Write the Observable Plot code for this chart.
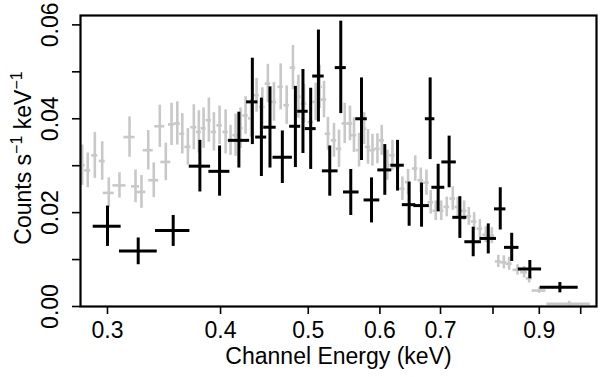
<!DOCTYPE html>
<html><head><meta charset="utf-8">
<script src="https://cdn.jsdelivr.net/npm/d3@7"></script>
<script src="https://cdn.jsdelivr.net/npm/@observablehq/plot@0.6"></script>
<style>body{margin:0;background:#fff;} svg{display:block;}</style>
</head><body><div id="chart"></div>
<script>
// ---- Black spectrum (energy bin, counts, errors) ----
const blackE   = [0.300,0.3244,0.3546,0.3795,0.3990,0.4191,0.4337,0.4438,0.4536,0.4681,0.4839,0.4933,0.5031,0.5131,0.5281,0.5431,0.5571,0.5725,0.5873,0.6075,0.6275,0.6463,0.6670,0.6818,0.6958,0.7155,0.7353,0.7607,0.7904,0.8149,0.8390,0.8786,0.9484];
const blackElo = [0.2893,0.3093,0.3390,0.3694,0.3883,0.4082,0.4274,0.4374,0.4464,0.4571,0.4769,0.4867,0.4961,0.5057,0.5183,0.5355,0.5469,0.5642,0.5763,0.5968,0.6169,0.6352,0.6541,0.6735,0.6848,0.7024,0.7222,0.7447,0.7738,0.8030,0.8237,0.8532,0.9019];
const blackEhi = [0.3106,0.3405,0.3700,0.3900,0.4096,0.4307,0.4399,0.4498,0.4608,0.4802,0.4904,0.4999,0.5102,0.5207,0.5394,0.5508,0.5690,0.5810,0.5998,0.6184,0.6384,0.6574,0.6804,0.6900,0.7077,0.7287,0.7485,0.7768,0.8071,0.8268,0.8547,0.9052,0.9936];
const blackC   = [0.0171,0.0118,0.0162,0.0299,0.0288,0.0354,0.0436,0.0361,0.0382,0.0318,0.0384,0.0416,0.0379,0.0491,0.0289,0.0509,0.0244,0.0400,0.0227,0.0291,0.0301,0.0217,0.0215,0.0400,0.0254,0.0308,0.0190,0.0138,0.0145,0.0208,0.0126,0.0080,0.0041];
const blackClo = [0.0128,0.0089,0.0128,0.0244,0.0235,0.0295,0.0345,0.0277,0.0295,0.0262,0.0296,0.0326,0.0292,0.0393,0.0235,0.0411,0.0194,0.0311,0.0178,0.0237,0.0246,0.0171,0.0169,0.0313,0.0202,0.0253,0.0145,0.0106,0.0112,0.0163,0.0096,0.0059,0.0029];
const blackChi = [0.0214,0.0146,0.0194,0.0354,0.0342,0.0414,0.0529,0.0444,0.0468,0.0374,0.0469,0.0505,0.0465,0.0589,0.0342,0.0608,0.0292,0.0487,0.0274,0.0345,0.0354,0.0265,0.0263,0.0487,0.0303,0.0363,0.0234,0.0169,0.0176,0.0253,0.0156,0.0098,0.0051];

// ---- Gray spectrum ----
const grayE   = [0.2813,0.2853,0.2905,0.2960,0.3010,0.3093,0.3173,0.3222,0.3271,0.3328,0.3375,0.3427,0.3480,0.3531,0.3583,0.3629,0.3681,0.3737,0.3785,0.3831,0.3883,0.3933,0.3990,0.4052,0.4103,0.4156,0.4209,0.4263,0.4323,0.4384,0.4449,0.4512,0.4582,0.4661,0.4733,0.4809,0.4876,0.4946,0.5031,0.5095,0.5147,0.5204,0.5257,0.5338,0.5407,0.5486,0.5560,0.5617,0.5690,0.5763,0.5821,0.5887,0.5962,0.6028,0.6116,0.6194,0.6275,0.6353,0.6445,0.6564,0.6657,0.6754,0.6828,0.6916,0.7013,0.7112,0.7222,0.7315,0.7433,0.7523,0.7625,0.7738,0.7855,0.7976,0.8109,0.8224,0.8335,0.8516,0.8660,0.8771,0.8997,0.9711];
const grayC   = [0.0301,0.0290,0.0322,0.0310,0.0242,0.0258,0.0361,0.0256,0.0244,0.0333,0.0269,0.0384,0.0308,0.0388,0.0390,0.0368,0.0340,0.0382,0.0372,0.0380,0.0397,0.0372,0.0386,0.0372,0.0354,0.0365,0.0380,0.0407,0.0401,0.0450,0.0425,0.0475,0.0436,0.0468,0.0429,0.0509,0.0447,0.0432,0.0393,0.0436,0.0468,0.0441,0.0368,0.0354,0.0336,0.0390,0.0390,0.0365,0.0333,0.0379,0.0340,0.0333,0.0336,0.0354,0.0301,0.0322,0.0297,0.0251,0.0265,0.0294,0.0269,0.0264,0.0222,0.0204,0.0204,0.0212,0.0230,0.0212,0.0204,0.0192,0.0181,0.0166,0.0153,0.0151,0.0096,0.0094,0.0091,0.0078,0.0073,0.0060,0.0034,0.0006];
const grayErr = [0.0043,0.0037,0.0049,0.0041,0.0032,0.0027,0.0043,0.0035,0.0035,0.0042,0.0037,0.0045,0.0040,0.0045,0.0046,0.0043,0.0039,0.0048,0.0045,0.0043,0.0047,0.0041,0.0041,0.0047,0.0032,0.0045,0.0043,0.0040,0.0040,0.0036,0.0041,0.0041,0.0041,0.0049,0.0041,0.0047,0.0046,0.0041,0.0040,0.0040,0.0046,0.0039,0.0035,0.0036,0.0040,0.0043,0.0037,0.0037,0.0036,0.0034,0.0037,0.0034,0.0032,0.0032,0.0032,0.0032,0.0032,0.0025,0.0027,0.0027,0.0026,0.0027,0.0025,0.0021,0.0021,0.0021,0.0025,0.0020,0.0021,0.0019,0.0019,0.0019,0.0017,0.0017,0.0013,0.0014,0.0014,0.0011,0.0012,0.0010,0.0006,0.0005];
const grayDx  = [0.00215,0.00218,0.00222,0.00226,0.00422,0.00512,0.00444,0.00328,0.00375,0.00424,0.0043,0.00436,0.00443,0.0027,0.00274,0.00231,0.00281,0.00285,0.00241,0.00244,0.00267,0.0027,0.00275,0.00279,0.00282,0.00286,0.0029,0.00293,0.00297,0.00302,0.00306,0.0031,0.00315,0.00321,0.00326,0.00331,0.00335,0.0034,0.00346,0.00351,0.00354,0.00358,0.00362,0.00367,0.00372,0.00377,0.00383,0.00386,0.00391,0.00397,0.004,0.00405,0.0041,0.00415,0.00421,0.00426,0.00432,0.00437,0.00443,0.00452,0.00475,0.00482,0.00487,0.00493,0.005,0.00507,0.00515,0.00522,0.0053,0.00536,0.00544,0.00552,0.0056,0.00569,0.00619,0.00628,0.00637,0.00976,0.00772,0.0067,0.0158,0.0535];

// ---- Axes ----
const xDomain = [0.2801, 1.041];
const yDomain = [0, 0.062];
const xTicks = [0.3, 0.4, 0.5, 0.6, 0.7, 0.8, 0.9, 1.0];
const xTickLabels = [0.3, 0.4, 0.5, 0.6, 0.7, 0.9];
const yTicks = [0, 0.01, 0.02, 0.03, 0.04, 0.05, 0.06];
const yTickLabels = [0, 0.02, 0.04, 0.06];
const xTitle = "Channel Energy (keV)";

const black = blackE.map((e, i) => ({e, elo: blackElo[i], ehi: blackEhi[i], c: blackC[i], clo: blackClo[i], chi: blackChi[i]}));
const gray = grayE.map((e, i) => ({e, elo: e - grayDx[i], ehi: e + grayDx[i], c: grayC[i], clo: grayC[i] - grayErr[i], chi: grayC[i] + grayErr[i]}));

const grayColor = "#c8c8c8";
const FS = 23;

const chart = Plot.plot({
  width: 600, height: 377,
  marginLeft: 80, marginRight: 4, marginTop: 15, marginBottom: 71,
  style: {fontFamily: "'Liberation Sans', Arial, Helvetica, sans-serif", fontSize: FS + "px", background: "#fff", color: "#000"},
  x: {type: "log", domain: xDomain},
  y: {domain: yDomain},
  marks: [
    Plot.ruleX(gray, {x: "e", y1: "clo", y2: "chi", stroke: grayColor, strokeWidth: 2.6, clip: true}),
    Plot.ruleY(gray, {y: "c", x1: "elo", x2: "ehi", stroke: grayColor, strokeWidth: 2.6, clip: true}),
    Plot.ruleX(black, {x: "e", y1: "clo", y2: "chi", stroke: "#000", strokeWidth: 3, clip: true}),
    Plot.ruleY(black, {y: "c", x1: "elo", x2: "ehi", stroke: "#000", strokeWidth: 3, clip: true}),
    Plot.frame({stroke: "#000", strokeWidth: 2.2}),
    Plot.axisX({ticks: xTicks, tickFormat: d => xTickLabels.includes(d) ? String(d) : "", tickSize: 8, tickPadding: 7, fontSize: FS, strokeWidth: 1.6, label: null}),
    Plot.axisY({ticks: yTicks, tickFormat: () => "", tickSize: 8, strokeWidth: 1.6, label: null}),
    Plot.text(yTickLabels, {y: d => d, text: d => d.toFixed(2), frameAnchor: "left", textAnchor: "middle", dx: -23, rotate: -90, lineAnchor: "bottom", fontSize: FS}),
    Plot.text([xTitle], {frameAnchor: "bottom", dy: 50, lineAnchor: "middle", fontSize: FS})
  ]
});

const svg = d3.select(chart);
const t = svg.append("text")
  .attr("transform", "translate(31,158) rotate(-90)")
  .attr("text-anchor", "middle")
  .attr("font-size", FS)
  .attr("fill", "#000");
t.append("tspan").text("Counts s");
t.append("tspan").attr("dy", -9).attr("font-size", 16).text("\u22121");
t.append("tspan").attr("dy", 9).text(" keV");
t.append("tspan").attr("dy", -9).attr("font-size", 16).text("\u22121");

document.getElementById("chart").appendChild(chart);
</script>
</body></html>
